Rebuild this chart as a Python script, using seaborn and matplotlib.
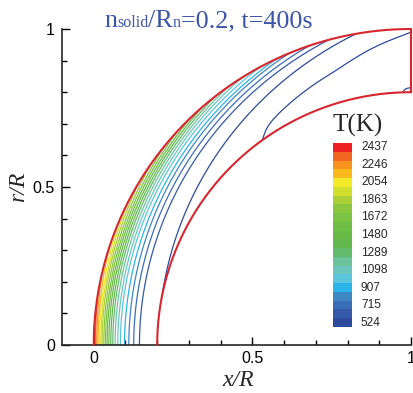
import numpy as np
import matplotlib
matplotlib.use("Agg")
import matplotlib.pyplot as plt
import seaborn as sns

# ---------------- data ----------------
levels = [524, 620, 715, 811, 907, 1002, 1098, 1194, 1289, 1385, 1480,
          1576, 1672, 1767, 1863, 1959, 2054, 2150, 2246, 2341, 2437]
legend_labels = [2437, 2246, 2054, 1863, 1672, 1480, 1289, 1098, 907, 715, 524]
level_colors = ['#2e4a9c', '#3559a8', '#3b6db6', '#3f86c5', '#2cb4e8', '#5bc5dc',
                '#6cc6bc', '#6dc39c', '#64bb6e', '#62b84c', '#67ba46', '#6fbd45',
                '#7cc243', '#8cc63f', '#aacf37', '#d2df2f', '#f3ea2b', '#f9b81c',
                '#f7931e', '#f26523', '#ed2024']
# depth (fraction of wall thickness) of each isotherm on the axis y=0
iso_depth0 = [1.02, 0.72, 0.63, 0.553, 0.485, 0.42, 0.379, 0.337, 0.30, 0.269, 0.238,
              0.211, 0.185, 0.159, 0.132, 0.111, 0.09, 0.069, 0.048, 0.027, 0.012]
# angle (deg from stagnation point) where each isotherm meets the outer surface
iso_exit = [80, 75, 71.3, 67.5, 65, 61.6, 58, 55, 52, 49, 46,
            42.5, 39, 35, 31, 27, 23, 18, 13, 9, 5]
iso_shape = 2.0
T_cold, cold_gap = 460, 0.35
# edge of the warm zone near the back face: depth fraction -> angle
warm_depth = [0.0, 0.05, 0.31, 0.51, 0.85, 1.0]
warm_angle = [90.5, 89.4, 80.1, 73.4, 56.0, 53.0]
warm_amp = 85
thickness = 0.2  # n_solid / R_n

# ---------------- field ----------------
rho = np.linspace(1 - thickness, 1.0, 241)
th = np.linspace(0, 90, 721)
RH, TH = np.meshgrid(rho, th)
S = (1 - RH) / thickness
d0 = np.array(iso_depth0)
te = np.array(iso_exit)
lev = np.array(levels, dtype=float)
T1 = np.empty_like(S)
for i, a in enumerate(th):
    sk = d0 * (1 - (a / te) ** iso_shape)
    xp = np.concatenate([[-50.0], sk[::-1], [sk[0] + cold_gap]])
    fp = np.concatenate([[2600.0], lev[::-1], [T_cold]])
    xp = np.maximum.accumulate(xp + np.arange(len(xp)) * 1e-9)
    T1[i] = np.interp(S[i], xp, fp)


def smooth_interp(xq, xp, fp, sigma, n=3000):
    xf = np.linspace(xp[0], xp[-1], n)
    ff = np.interp(xf, xp, fp)
    dx = xf[1] - xf[0]
    k = max(1, int(3 * sigma / dx))
    kern = np.exp(-0.5 * (np.arange(-k, k + 1) * dx / sigma) ** 2)
    kern /= kern.sum()
    left = 2 * ff[0] - ff[1:k + 1][::-1]
    right = 2 * ff[-1] - ff[-k - 1:-1][::-1]
    fs = np.convolve(np.concatenate([left, ff, right]), kern, mode="valid")
    return np.interp(xq, xf, fs)


thB = smooth_interp(S, warm_depth, warm_angle, 0.04)
T2 = warm_amp * 0.5 * (1 + np.tanh((TH - thB) / 2.0))
# small cool spot in the inner back corner
T2 *= 1 - 0.95 * np.exp(-((90 - TH) / 1.5) ** 2 - ((1 - S) / 0.06) ** 2)
T = T1 + T2
X = 1 - RH * np.cos(np.radians(TH))
Y = RH * np.sin(np.radians(TH))

# ---------------- figure ----------------
sns.set_style("ticks")
plt.rcParams["font.family"] = ["Liberation Sans", "DejaVu Sans"]

fig = plt.figure(figsize=(4.14, 3.93), dpi=100)
W, H = 414.0, 393.0
ax = fig.add_axes([62 / W, 1 - 345 / H, 349 / W, 316 / H])

ax.contour(X, Y, T, levels=levels, colors=level_colors, linewidths=0.9)

red = "#d6262e"
ang = np.radians(np.linspace(0, 90, 400))
ax.plot(1 - np.cos(ang), np.sin(ang), color=red, lw=1.5, clip_on=False, zorder=5)
ax.plot(1 - (1 - thickness) * np.cos(ang), (1 - thickness) * np.sin(ang),
        color=red, lw=1.5, clip_on=False, zorder=5)
ax.plot([1, 1], [1 - thickness, 1], color=red, lw=1.5, clip_on=False, zorder=5)

ax.set_xlim(-0.1, 1.0)
ax.set_ylim(0, 1)
for sp in ["top", "right"]:
    ax.spines[sp].set_visible(False)
for sp in ["left", "bottom"]:
    ax.spines[sp].set_linewidth(1.2)
ax.set_xticks([0, 0.5, 1])
ax.set_xticklabels(["0", "0.5", "1"])
ax.set_yticks([0, 0.5, 1])
ax.set_yticklabels(["0", "0.5", "1"])
ax.set_xticks(np.arange(0, 1.01, 0.1), minor=True)
ax.set_yticks(np.arange(0, 1.01, 0.1), minor=True)
ax.tick_params(which="both", direction="in", width=1.0, labelsize=11.5, colors="black")
ax.tick_params(which="major", length=5.5)
ax.tick_params(which="minor", length=3.5)
ax.tick_params(axis="y", pad=5)
ax.tick_params(axis="x", pad=4)

ax.set_xlabel("x/R", fontfamily="Liberation Serif", fontstyle="italic", fontsize=17)
ax.set_ylabel("r/R", fontfamily="Liberation Serif", fontstyle="italic", fontsize=17)
ax.xaxis.set_label_coords(0.504, -0.08)
ax.yaxis.set_label_coords(-0.095, 0.5)

# title built from pieces (subscripts sit on the baseline, smaller font)
renderer = fig.canvas.get_renderer()
pieces = [("n", 18.8), ("solid", 11.5), ("/R", 18.8), ("n", 11.5), ("=0.2, t=400s", 18.8)]
x_px = 104.0
for txt, fs in pieces:
    t = fig.text(x_px / W, 1 - 27 / H, txt, fontfamily="Liberation Serif", fontsize=fs,
                 color="#3d55a5", ha="left", va="baseline")
    x_px += t.get_window_extent(renderer).width

# legend
lax = fig.add_axes([333 / W, 1 - 327 / H, 19 / W, 184 / H])
vals = np.array(levels[::-1], dtype=float).reshape(-1, 1)
cmap = matplotlib.colors.ListedColormap(level_colors)
sns.heatmap(vals, ax=lax, cmap=cmap, cbar=False, vmin=levels[0] - 48, vmax=levels[-1] + 48,
            xticklabels=False, yticklabels=False)
lax.set_xlabel("")
lax.set_ylabel("")
nb = len(levels)
for i, lab in enumerate(legend_labels):
    yc = 143 + (2 * i + 0.5) * 184 / nb
    fig.text(361 / W, 1 - yc / H, str(lab), fontsize=8.6, ha="left", va="center")
fig.text(333 / W, 1 - 132 / H, "T(K)", fontfamily="Liberation Serif", fontsize=18,
         ha="left", va="baseline")

fig.savefig("out.png", dpi=100)
